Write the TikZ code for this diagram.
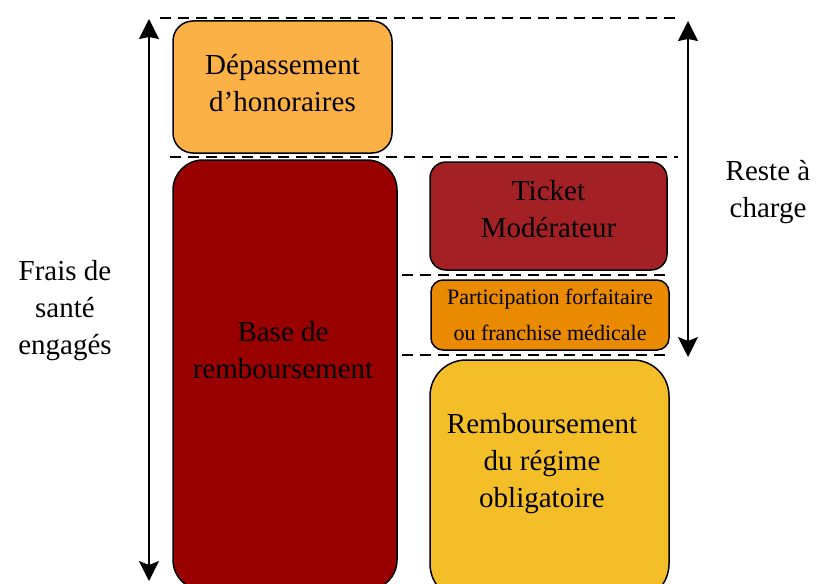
\documentclass[tikz,border=0pt]{standalone}
\usepackage{fontspec}
\setmainfont{Liberation Serif}
\usetikzlibrary{arrows.meta}

\definecolor{depcol}{HTML}{FBB146}
\definecolor{basecol}{HTML}{990000}
\definecolor{ticketcol}{HTML}{A32025}
\definecolor{partcol}{HTML}{EA8A00}
\definecolor{rembcol}{HTML}{F4BE28}

\tikzset{
  box/.style={draw=black, line width=0.75pt, inner sep=0pt, outer sep=0pt, align=center,
    font=\fontsize{14.5}{18.5}\selectfont},
  txt/.style={align=center, inner sep=1pt, font=\fontsize{14.5}{18.5}\selectfont},
  guide/.style={dash pattern=on 5.5pt off 3.5pt, line width=0.8pt},
  span/.style={{Stealth[length=10pt, width=10pt, inset=2pt]}-{Stealth[length=10pt, width=10pt, inset=1pt]}, line width=0.9pt},
}

\begin{document}
\begin{tikzpicture}[x=0.5pt, y=-0.5pt]
  \useasboundingbox (0,0) rectangle (817,583);
  \clip (0,0) rectangle (817,583);

  % boxes
  \node[box, fill=depcol, rounded corners=10pt, minimum width=109.5pt, minimum height=66pt,
    label={[txt, yshift=2pt]center:Dépassement\\d’honoraires}] (dep) at (282.5,87) {};
  \node[box, fill=basecol, rounded corners=15pt, minimum width=112pt, minimum height=215pt] (base) at (285,375) {};
  \node[txt] (basetxt) at (283,350) {Base de\\remboursement};
  \node[box, fill=ticketcol, rounded corners=8pt, minimum width=118.5pt, minimum height=54pt,
    label={[txt, yshift=3.5pt]center:Ticket\\Modérateur}] (ticket) at (548.5,216) {};
  \node[box, fill=partcol, rounded corners=6pt, minimum width=119pt, minimum height=35pt,
    font=\fontsize{11}{18}\selectfont] (part) at (550,315) {Participation forfaitaire\\ou franchise médicale};
  \node[box, fill=rembcol, rounded corners=18pt, minimum width=119.5pt, minimum height=120pt] (remb) at (549.5,480) {};
  \node[txt] (rembtxt) at (542,464) {Remboursement\\du régime\\obligatoire};

  % side labels
  \node[txt] (frais) at (65,311) {Frais de\\santé\\engagés};
  \node[txt] (reste) at (768,192) {Reste à\\charge};

  % dashed guides
  \coordinate (g1a) at (160,18);  \coordinate (g1b) at (680,18);
  \coordinate (g2a) at (170,157); \coordinate (g2b) at (678,157);
  \coordinate (g3a) at (402,275); \coordinate (g3b) at (668,275);
  \coordinate (g4a) at (402,355); \coordinate (g4b) at (668,355);
  \draw[guide] (g1a) -- (g1b);
  \draw[guide] (g2a) -- (g2b);
  \draw[guide] (g3a) -- (g3b);
  \draw[guide] (g4a) -- (g4b);

  % spans
  \coordinate (ltop) at (149,19);  \coordinate (lbot) at (149,581);
  \coordinate (rtop) at (688,21);  \coordinate (rbot) at (688,357);
  \draw[span] (lbot) -- (ltop);
  \draw[span] (rbot) -- (rtop);
\end{tikzpicture}
\end{document}
